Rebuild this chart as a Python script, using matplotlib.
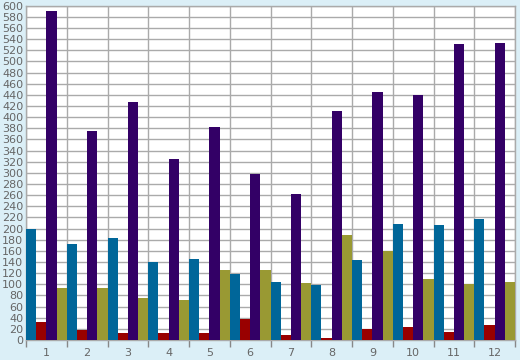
import matplotlib
matplotlib.use("Agg")
import matplotlib.pyplot as plt
import numpy as np

categories = ["1", "2", "3", "4", "5", "6", "7", "8", "9", "10", "11", "12"]
blue = [200, 172, 183, 140, 145, 119, 104, 99, 143, 208, 206, 217]
red = [33, 18, 12, 12, 12, 37, 9, 4, 20, 23, 14, 27]
purple = [591, 375, 427, 325, 382, 298, 262, 411, 445, 440, 531, 533]
olive = [94, 94, 76, 71, 126, 126, 103, 188, 159, 110, 101, 104]

series = [blue, red, purple, olive]
colors = ["#006699", "#990000", "#330066", "#999933"]

fig = plt.figure(figsize=(5.2, 3.6), dpi=100)
fig.patch.set_facecolor("#dbeff7")
ax = fig.add_axes([26/520, 20/360, 489/520, 334.3/360])
ax.set_facecolor("white")

x = np.arange(1, len(categories) + 1)
w = 0.25
for k, (vals, c) in enumerate(zip(series, colors)):
    ax.bar(x - 0.375 + k * w, vals, width=w, color=c, zorder=3, linewidth=0)

ax.set_xlim(0.5, len(categories) + 0.5)
ax.set_ylim(0, 600)
ax.set_yticks(np.arange(0, 601, 20))
ax.set_xticks(x)
ax.set_xticklabels(categories)
ax.set_xticks(np.arange(0.5, len(categories) + 1, 1), minor=True)

grid_c = "#aaaaaa"
ax.grid(True, axis="y", which="major", color=grid_c, linewidth=1.0, zorder=0)
ax.grid(True, axis="x", which="minor", color=grid_c, linewidth=1.0, zorder=0)
ax.grid(False, axis="x", which="major")

ax.tick_params(axis="x", which="major", length=0, pad=6, labelsize=8, labelcolor="#666666")
ax.tick_params(axis="x", which="minor", length=5, color="#888888", width=1)
ax.tick_params(axis="y", which="major", length=0, pad=2, labelsize=8, labelcolor="#666666")

for s in ax.spines.values():
    s.set_color(grid_c)
    s.set_linewidth(1.0)

fig.savefig("out.png", dpi=100, facecolor=fig.get_facecolor())
